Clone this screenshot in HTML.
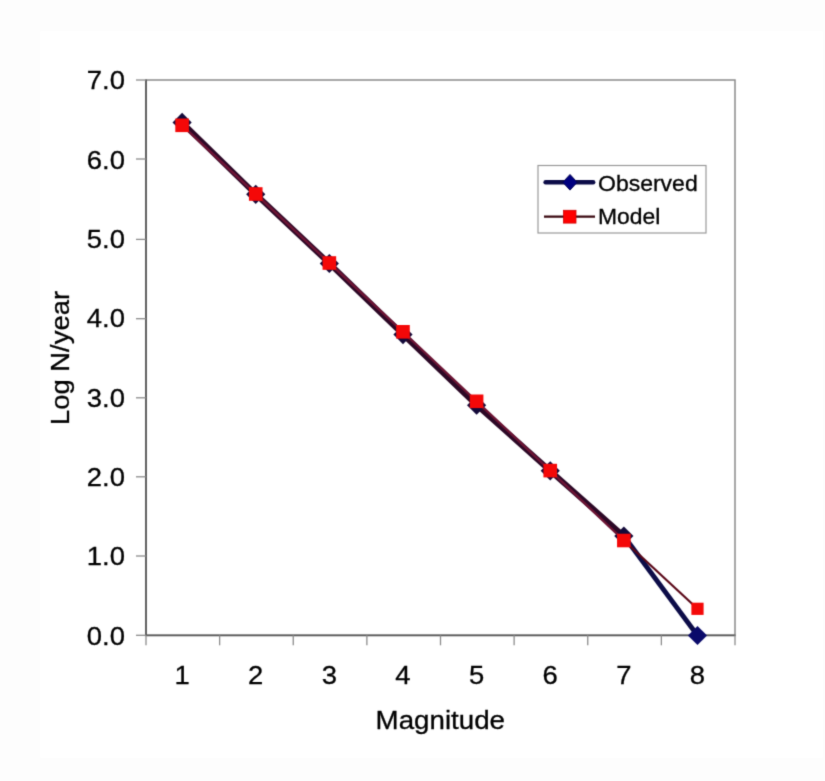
<!DOCTYPE html><html><head><meta charset="utf-8"><style>html,body{margin:0;padding:0;background:#fff;}svg{display:block;}text{font-family:"Liberation Sans",sans-serif;fill:#000;stroke:#000;stroke-width:0.3px;}</style></head><body>
<svg width="825" height="781" viewBox="0 0 825 781">
<defs><filter id="bl" color-interpolation-filters="sRGB" x="-5%" y="-5%" width="110%" height="110%"><feConvolveMatrix order="3" kernelMatrix="0.019 0.0998 0.019 0.0998 0.5244 0.0998 0.019 0.0998 0.019" edgeMode="duplicate"/></filter></defs>
<g filter="url(#bl)">
<rect x="0" y="0" width="825" height="781" fill="#fdfdfd"/>
<rect x="40" y="31" width="783" height="727" fill="#ffffff"/>
<rect x="146.0" y="80.0" width="589.0" height="555.3" fill="none" stroke="#8a8a8a" stroke-width="1.5"/>
<line x1="146.0" y1="79.5" x2="146.0" y2="635.8" stroke="#5a5a5a" stroke-width="1.8"/>
<line x1="145.5" y1="635.3" x2="735.5" y2="635.3" stroke="#5a5a5a" stroke-width="1.8"/>
<line x1="136.0" y1="635.30" x2="146.0" y2="635.30" stroke="#8c8c8c" stroke-width="1.3"/>
<text transform="translate(125,644.50) scale(1.055,1)" font-size="26" text-anchor="end">0.0</text>
<line x1="136.0" y1="556.00" x2="146.0" y2="556.00" stroke="#8c8c8c" stroke-width="1.3"/>
<text transform="translate(125,565.17) scale(1.055,1)" font-size="26" text-anchor="end">1.0</text>
<line x1="136.0" y1="476.80" x2="146.0" y2="476.80" stroke="#8c8c8c" stroke-width="1.3"/>
<text transform="translate(125,485.84) scale(1.055,1)" font-size="26" text-anchor="end">2.0</text>
<line x1="136.0" y1="397.80" x2="146.0" y2="397.80" stroke="#8c8c8c" stroke-width="1.3"/>
<text transform="translate(125,406.51) scale(1.055,1)" font-size="26" text-anchor="end">3.0</text>
<line x1="136.0" y1="318.70" x2="146.0" y2="318.70" stroke="#8c8c8c" stroke-width="1.3"/>
<text transform="translate(125,327.19) scale(1.055,1)" font-size="26" text-anchor="end">4.0</text>
<line x1="136.0" y1="239.40" x2="146.0" y2="239.40" stroke="#8c8c8c" stroke-width="1.3"/>
<text transform="translate(125,247.86) scale(1.055,1)" font-size="26" text-anchor="end">5.0</text>
<line x1="136.0" y1="159.00" x2="146.0" y2="159.00" stroke="#8c8c8c" stroke-width="1.3"/>
<text transform="translate(125,168.53) scale(1.055,1)" font-size="26" text-anchor="end">6.0</text>
<line x1="136.0" y1="80.00" x2="146.0" y2="80.00" stroke="#8c8c8c" stroke-width="1.3"/>
<text transform="translate(125,89.20) scale(1.055,1)" font-size="26" text-anchor="end">7.0</text>
<line x1="146.00" y1="635.3" x2="146.00" y2="645.3" stroke="#8c8c8c" stroke-width="1.3"/>
<line x1="219.62" y1="635.3" x2="219.62" y2="645.3" stroke="#8c8c8c" stroke-width="1.3"/>
<line x1="293.25" y1="635.3" x2="293.25" y2="645.3" stroke="#8c8c8c" stroke-width="1.3"/>
<line x1="366.88" y1="635.3" x2="366.88" y2="645.3" stroke="#8c8c8c" stroke-width="1.3"/>
<line x1="440.50" y1="635.3" x2="440.50" y2="645.3" stroke="#8c8c8c" stroke-width="1.3"/>
<line x1="514.12" y1="635.3" x2="514.12" y2="645.3" stroke="#8c8c8c" stroke-width="1.3"/>
<line x1="587.75" y1="635.3" x2="587.75" y2="645.3" stroke="#8c8c8c" stroke-width="1.3"/>
<line x1="661.38" y1="635.3" x2="661.38" y2="645.3" stroke="#8c8c8c" stroke-width="1.3"/>
<line x1="735.00" y1="635.3" x2="735.00" y2="645.3" stroke="#8c8c8c" stroke-width="1.3"/>
<text transform="translate(182.11,684) scale(1.055,1)" font-size="26" text-anchor="middle">1</text>
<text transform="translate(255.74,684) scale(1.055,1)" font-size="26" text-anchor="middle">2</text>
<text transform="translate(329.36,684) scale(1.055,1)" font-size="26" text-anchor="middle">3</text>
<text transform="translate(402.99,684) scale(1.055,1)" font-size="26" text-anchor="middle">4</text>
<text transform="translate(476.61,684) scale(1.055,1)" font-size="26" text-anchor="middle">5</text>
<text transform="translate(550.24,684) scale(1.055,1)" font-size="26" text-anchor="middle">6</text>
<text transform="translate(623.86,684) scale(1.055,1)" font-size="26" text-anchor="middle">7</text>
<text transform="translate(697.49,684) scale(1.055,1)" font-size="26" text-anchor="middle">8</text>
<text transform="translate(440.3,729.2) scale(1.066,1)" font-size="26" text-anchor="middle">Magnitude</text>
<text transform="translate(68.8,358.0) rotate(-90) scale(1.055,1)" font-size="26" text-anchor="middle">Log N/year</text>
<polyline points="182.11,122.40 255.74,194.35 329.36,263.50 402.99,334.60 476.61,405.20 550.24,470.80 623.86,536.00" fill="none" stroke="#2c0826" stroke-width="5.6" stroke-linejoin="round"/>
<polyline points="623.86,536.00 697.49,635.50" fill="none" stroke="#0c0c48" stroke-width="4.8" stroke-linejoin="round"/>
<path d="M182.11,112.80 L191.71,122.40 L182.11,132.00 L172.51,122.40Z" fill="#140a3a"/>
<path d="M255.74,184.75 L265.34,194.35 L255.74,203.95 L246.14,194.35Z" fill="#140a3a"/>
<path d="M329.36,253.90 L338.96,263.50 L329.36,273.10 L319.76,263.50Z" fill="#140a3a"/>
<path d="M402.99,325.00 L412.59,334.60 L402.99,344.20 L393.39,334.60Z" fill="#140a3a"/>
<path d="M476.61,395.60 L486.21,405.20 L476.61,414.80 L467.01,405.20Z" fill="#140a3a"/>
<path d="M550.24,461.20 L559.84,470.80 L550.24,480.40 L540.64,470.80Z" fill="#140a3a"/>
<path d="M623.86,526.40 L633.46,536.00 L623.86,545.60 L614.26,536.00Z" fill="#140a3a"/>
<path d="M697.49,625.90 L707.09,635.50 L697.49,645.10 L687.89,635.50Z" fill="#0a0a6a"/>
<polyline points="182.11,125.30 255.74,194.00 329.36,263.00 402.99,331.80 476.61,401.30 550.24,470.60 623.86,540.50" fill="none" stroke="#6c1434" stroke-width="2.4" stroke-linejoin="round"/>
<polyline points="623.86,540.50 697.49,608.80" fill="none" stroke="#5a0818" stroke-width="2.2" stroke-linejoin="round"/>
<rect x="175.31" y="118.50" width="13.60" height="13.60" fill="#f40808"/>
<rect x="248.94" y="187.20" width="13.60" height="13.60" fill="#f40808"/>
<rect x="322.56" y="256.20" width="13.60" height="13.60" fill="#f40808"/>
<rect x="396.19" y="325.00" width="13.60" height="13.60" fill="#f40808"/>
<rect x="469.81" y="394.50" width="13.60" height="13.60" fill="#f40808"/>
<rect x="543.44" y="463.80" width="13.60" height="13.60" fill="#f40808"/>
<rect x="617.06" y="533.70" width="13.60" height="13.60" fill="#f40808"/>
<rect x="691.39" y="602.70" width="12.20" height="12.20" fill="#f40808"/>
<rect x="538" y="165.5" width="168" height="67.5" fill="#fff" stroke="#999" stroke-width="1.2"/>
<line x1="545.6" y1="182.3" x2="593.2" y2="182.3" stroke="#0c0c48" stroke-width="4.4" stroke-linecap="round"/>
<path d="M570,174.5 L577.176,182.3 L570,190.10000000000002 L562.824,182.3Z" fill="#000080" stroke="#000050" stroke-width="1"/>
<line x1="544" y1="216.6" x2="595" y2="216.6" stroke="#3a0810" stroke-width="2.2"/>
<rect x="563.5" y="210.3" width="12.5" height="12.8" fill="#ff0000" stroke="#d00000" stroke-width="0.8"/>
<text transform="translate(598,190.8) scale(1.065,1)" font-size="21.6">Observed</text>
<text transform="translate(598,223.8) scale(1.06,1)" font-size="21.6">Model</text>
</g></svg></body></html>
